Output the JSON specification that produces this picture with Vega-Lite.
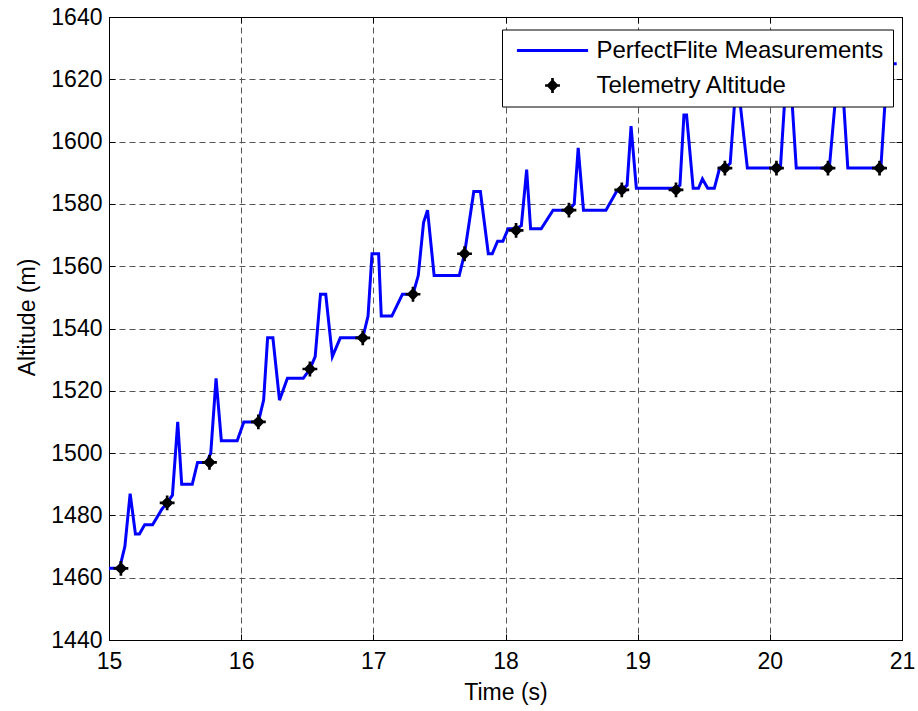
{
  "$schema": "https://vega.github.io/schema/vega-lite/v6.json",
  "width": 793,
  "height": 623,
  "autosize": {"type": "none"},
  "padding": {"left": 109, "top": 17, "right": 16, "bottom": 71},
  "background": "white",
  "config": {
    "view": {"stroke": "black", "strokeWidth": 1},
    "font": "Liberation Sans",
    "axis": {
      "labelFont": "Liberation Sans",
      "titleFont": "Liberation Sans",
      "labelColor": "black",
      "titleColor": "black",
      "domainColor": "black",
      "tickColor": "black",
      "labelFlush": false,
      "labelOverlap": false,
      "labelBound": false
    }
  },
  "datasets": {
    "pf": [
      {"t": 15.00, "alt": 1463}, {"t": 15.08, "alt": 1463}, {"t": 15.12, "alt": 1470}, {"t": 15.16, "alt": 1487},
      {"t": 15.20, "alt": 1474}, {"t": 15.23, "alt": 1474}, {"t": 15.27, "alt": 1477}, {"t": 15.33, "alt": 1477},
      {"t": 15.40, "alt": 1482}, {"t": 15.44, "alt": 1484}, {"t": 15.48, "alt": 1486.5}, {"t": 15.52, "alt": 1510},
      {"t": 15.55, "alt": 1490}, {"t": 15.63, "alt": 1490}, {"t": 15.67, "alt": 1497}, {"t": 15.74, "alt": 1497},
      {"t": 15.77, "alt": 1500}, {"t": 15.81, "alt": 1524}, {"t": 15.85, "alt": 1504}, {"t": 15.97, "alt": 1504},
      {"t": 16.02, "alt": 1510}, {"t": 16.13, "alt": 1510}, {"t": 16.17, "alt": 1517}, {"t": 16.20, "alt": 1537},
      {"t": 16.24, "alt": 1537}, {"t": 16.29, "alt": 1517}, {"t": 16.35, "alt": 1524}, {"t": 16.47, "alt": 1524},
      {"t": 16.52, "alt": 1527}, {"t": 16.56, "alt": 1531}, {"t": 16.60, "alt": 1551}, {"t": 16.64, "alt": 1551},
      {"t": 16.69, "alt": 1531}, {"t": 16.75, "alt": 1537}, {"t": 16.92, "alt": 1537}, {"t": 16.96, "alt": 1544},
      {"t": 16.99, "alt": 1564}, {"t": 17.04, "alt": 1564}, {"t": 17.06, "alt": 1544}, {"t": 17.14, "alt": 1544},
      {"t": 17.22, "alt": 1551}, {"t": 17.30, "alt": 1551}, {"t": 17.34, "alt": 1557}, {"t": 17.38, "alt": 1574},
      {"t": 17.41, "alt": 1578}, {"t": 17.46, "alt": 1557}, {"t": 17.65, "alt": 1557}, {"t": 17.69, "alt": 1564},
      {"t": 17.76, "alt": 1584}, {"t": 17.81, "alt": 1584}, {"t": 17.87, "alt": 1564}, {"t": 17.90, "alt": 1564},
      {"t": 17.94, "alt": 1568}, {"t": 17.98, "alt": 1568}, {"t": 18.02, "alt": 1572}, {"t": 18.08, "alt": 1572},
      {"t": 18.12, "alt": 1573}, {"t": 18.16, "alt": 1591}, {"t": 18.19, "alt": 1572}, {"t": 18.27, "alt": 1572},
      {"t": 18.36, "alt": 1578}, {"t": 18.48, "alt": 1578}, {"t": 18.52, "alt": 1580}, {"t": 18.55, "alt": 1598},
      {"t": 18.59, "alt": 1578}, {"t": 18.76, "alt": 1578}, {"t": 18.84, "alt": 1584}, {"t": 18.88, "alt": 1584.5},
      {"t": 18.92, "alt": 1586}, {"t": 18.95, "alt": 1605}, {"t": 18.99, "alt": 1585}, {"t": 19.29, "alt": 1585},
      {"t": 19.32, "alt": 1586}, {"t": 19.35, "alt": 1608.5}, {"t": 19.37, "alt": 1608.5}, {"t": 19.42, "alt": 1585},
      {"t": 19.46, "alt": 1585}, {"t": 19.49, "alt": 1588}, {"t": 19.53, "alt": 1585}, {"t": 19.58, "alt": 1585},
      {"t": 19.62, "alt": 1591.5}, {"t": 19.66, "alt": 1591.5}, {"t": 19.70, "alt": 1593}, {"t": 19.75, "alt": 1622},
      {"t": 19.83, "alt": 1591.5}, {"t": 20.08, "alt": 1591.5}, {"t": 20.13, "alt": 1625}, {"t": 20.15, "alt": 1625},
      {"t": 20.20, "alt": 1591.5}, {"t": 20.45, "alt": 1591.5}, {"t": 20.52, "alt": 1625}, {"t": 20.54, "alt": 1625},
      {"t": 20.59, "alt": 1591.5}, {"t": 20.84, "alt": 1591.5}, {"t": 20.89, "alt": 1625}, {"t": 20.96, "alt": 1625}
    ],
    "tel": [
      {"t": 15.09, "alt": 1463}, {"t": 15.44, "alt": 1484}, {"t": 15.76, "alt": 1497}, {"t": 16.13, "alt": 1510},
      {"t": 16.52, "alt": 1527}, {"t": 16.92, "alt": 1537}, {"t": 17.30, "alt": 1551}, {"t": 17.69, "alt": 1564},
      {"t": 18.08, "alt": 1571.5}, {"t": 18.48, "alt": 1578}, {"t": 18.88, "alt": 1584.5}, {"t": 19.29, "alt": 1584.5},
      {"t": 19.66, "alt": 1591.5}, {"t": 20.05, "alt": 1591.5}, {"t": 20.44, "alt": 1591.5}, {"t": 20.83, "alt": 1591.5}
    ]
  },
  "layer": [
    {
      "data": {"name": "pf"},
      "mark": {"type": "line", "strokeWidth": 3, "clip": true},
      "encoding": {
        "x": {
          "field": "t", "type": "quantitative",
          "scale": {"domain": [15, 21], "nice": false, "zero": false},
          "axis": {
            "orient": "bottom", "title": "Time (s)", "values": [15, 16, 17, 18, 19, 20, 21], "format": "d",
            "grid": true, "gridDash": [6, 4], "gridColor": "#555555", "gridWidth": 1, "gridOpacity": 1,
            "tickSize": -6, "labelFontSize": 23, "labelPadding": 16,
            "titleFontSize": 23, "titleFontWeight": "normal", "titlePadding": 8
          }
        },
        "y": {
          "field": "alt", "type": "quantitative",
          "scale": {"domain": [1440, 1640], "nice": false, "zero": false},
          "axis": {
            "orient": "left", "title": "Altitude (m)",
            "values": [1440, 1460, 1480, 1500, 1520, 1540, 1560, 1580, 1600, 1620, 1640], "format": "d",
            "grid": true, "gridDash": [6, 4], "gridColor": "#555555", "gridWidth": 1, "gridOpacity": 1,
            "tickSize": -6, "labelFontSize": 23, "labelPadding": 13,
            "titleFontSize": 23, "titleFontWeight": "normal", "titlePadding": 11, "titleY": 300
          }
        },
        "color": {
          "datum": "PerfectFlite Measurements", "type": "nominal",
          "scale": {"domain": ["PerfectFlite Measurements", "Telemetry Altitude"], "range": ["#0000ff", "#000000"]},
          "legend": {
            "title": null, "orient": "none", "legendX": 393, "legendY": 12.5, "direction": "vertical",
            "padding": 9, "strokeColor": "black", "fillColor": "white", "cornerRadius": 0,
            "labelFont": "Liberation Sans", "labelFontSize": 24, "labelColor": "black", "labelOffset": 32,
            "labelLimit": 500,
            "symbolOffset": 29.5, "symbolSize": 220, "rowPadding": 11, "symbolOpacity": 1,
            "encode": {
              "symbols": {
                "update": {
                  "shape": {"signal": "datum.value === 'PerfectFlite Measurements' ? 'M-4.8,0L4.8,0' : 'M-0.18,-1L0.18,-1L0.18,-0.67L0.67,-0.18L1,-0.18L1,0.18L0.67,0.18L0.18,0.67L0.18,1L-0.18,1L-0.18,0.67L-0.67,0.18L-1,0.18L-1,-0.18L-0.67,-0.18L-0.18,-0.67Z'"},
                  "fill": {"signal": "datum.value === 'PerfectFlite Measurements' ? 'transparent' : 'black'"},
                  "stroke": {"signal": "datum.value === 'PerfectFlite Measurements' ? '#0000ff' : 'black'"},
                  "strokeWidth": {"signal": "datum.value === 'PerfectFlite Measurements' ? 3 : 0"},
                  "opacity": {"value": 1}
                }
              }
            }
          }
        }
      }
    },
    {
      "data": {"name": "tel"},
      "mark": {
        "type": "point", "filled": true, "size": 220, "opacity": 1, "strokeWidth": 0,
        "shape": "M-0.18,-1L0.18,-1L0.18,-0.67L0.67,-0.18L1,-0.18L1,0.18L0.67,0.18L0.18,0.67L0.18,1L-0.18,1L-0.18,0.67L-0.67,0.18L-1,0.18L-1,-0.18L-0.67,-0.18L-0.18,-0.67Z"
      },
      "encoding": {
        "x": {
          "field": "t", "type": "quantitative",
          "axis": {"orient": "top", "labels": false, "title": null, "grid": false, "tickSize": -6,
                   "values": [15, 16, 17, 18, 19, 20, 21]}
        },
        "y": {
          "field": "alt", "type": "quantitative",
          "axis": {"orient": "right", "labels": false, "title": null, "grid": false, "tickSize": -6,
                   "values": [1440, 1460, 1480, 1500, 1520, 1540, 1560, 1580, 1600, 1620, 1640]}
        },
        "color": {"datum": "Telemetry Altitude", "type": "nominal"}
      }
    }
  ],
  "resolve": {"axis": {"x": "independent", "y": "independent"}}
}
